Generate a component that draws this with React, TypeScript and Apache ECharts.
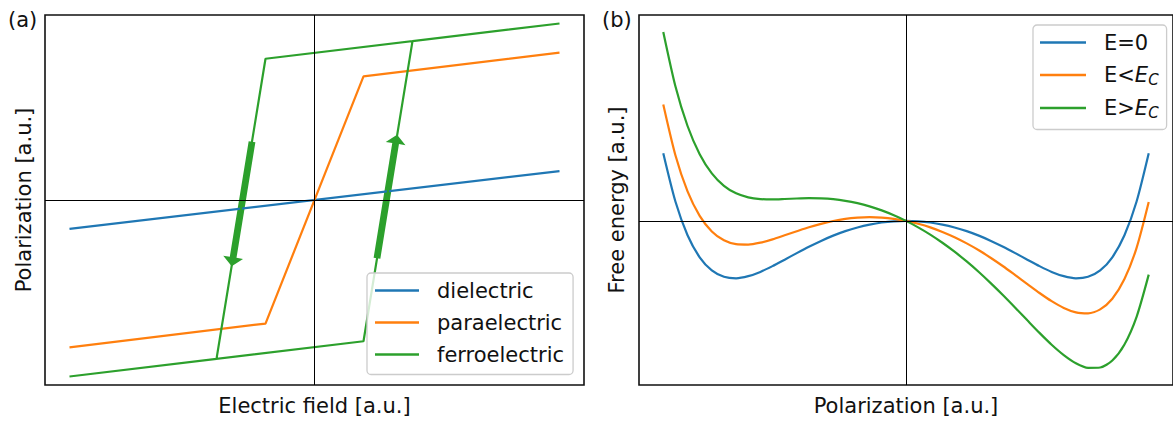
import { useEffect, useRef } from 'react';
import * as echarts from 'echarts';

// ---------- panel (a): polarization vs. electric field ----------
const dielectricField = [-1, 1];
const dielectricPol = [-0.164, 0.164];

const paraField = [-1, -0.2, 0.2, 1];
const paraPol = [-0.835, -0.7, 0.7, 0.835];

// hysteresis loop, traced lower branch -> up-switch -> upper branch -> down-switch
const ferroField = [-1, 0.2, 0.4, 1, -0.2, -0.4, -1];
const ferroPol = [-1, -0.8, 0.9, 1, 0.8, -0.9, -1];

// switching arrows: [field start, pol start, field tip, pol tip]
const arrowDown = [-0.255, 0.33, -0.338, -0.375];
const arrowUp = [0.255, -0.33, 0.337, 0.37];

const fieldLegend = ['dielectric', 'paraelectric', 'ferroelectric'];

// ---------- panel (b): free energy vs. polarization ----------
const polarization = [
  -1, -0.95, -0.9, -0.85, -0.8, -0.75, -0.7, -0.65, -0.6, -0.55, -0.5,
  -0.45, -0.4, -0.35, -0.3, -0.25, -0.2, -0.15, -0.1, -0.05, 0,
  0.05, 0.1, 0.15, 0.2, 0.25, 0.3, 0.35, 0.4, 0.45, 0.5,
  0.55, 0.6, 0.65, 0.7, 0.75, 0.8, 0.85, 0.9, 0.95, 1,
];
const energyZeroField = [
  0.68, 0.195, -0.144, -0.366, -0.498, -0.562, -0.577, -0.556, -0.513, -0.455, -0.39,
  -0.324, -0.26, -0.201, -0.148, -0.103, -0.066, -0.037, -0.016, -0.004, 0,
  -0.004, -0.016, -0.037, -0.066, -0.103, -0.148, -0.201, -0.26, -0.324, -0.39,
  -0.455, -0.513, -0.556, -0.577, -0.562, -0.498, -0.366, -0.144, 0.195, 0.68,
];
const energyBelowCoercive = [
  1.17, 0.66, 0.297, 0.051, -0.106, -0.195, -0.234, -0.238, -0.219, -0.186, -0.145,
  -0.104, -0.064, -0.03, -0.001, 0.02, 0.032, 0.037, 0.033, 0.021, 0,
  -0.029, -0.065, -0.111, -0.164, -0.226, -0.295, -0.373, -0.456, -0.545, -0.635,
  -0.725, -0.807, -0.875, -0.92, -0.93, -0.89, -0.783, -0.585, -0.271, 0.19,
];
const energyAboveCoercive = [
  1.9, 1.354, 0.954, 0.671, 0.478, 0.353, 0.277, 0.237, 0.219, 0.216, 0.22,
  0.225, 0.228, 0.226, 0.218, 0.202, 0.178, 0.146, 0.106, 0.057, 0,
  -0.065, -0.138, -0.22, -0.31, -0.408, -0.514, -0.628, -0.748, -0.873, -1.0,
  -1.126, -1.245, -1.349, -1.431, -1.477, -1.474, -1.403, -1.242, -0.964, -0.54,
];

const energyLegend = ['E=0', 'E<E_C', 'E>E_C'];

const BLUE = '#1f77b4';
const ORANGE = '#ff7f0e';
const GREEN = '#2ca02c';
const INK = '#111111';
const FONT = 'DejaVu Sans';

const pairs = (xs: number[], ys: number[]) => xs.map((x, i) => [x, ys[i]]);

const zeroLines = {
  silent: true,
  symbol: ['none', 'none'],
  label: { show: false },
  lineStyle: { color: '#000', width: 1, type: 'solid' },
  emphasis: { disabled: true },
  data: [{ xAxis: 0 }, { yAxis: 0 }],
};

const hiddenAxis = {
  type: 'value',
  axisLine: { show: false },
  axisTick: { show: false },
  axisLabel: { show: false },
  splitLine: { show: false },
  nameLocation: 'middle',
  nameTextStyle: { fontFamily: FONT, fontSize: 21, color: INK },
};

const lineSeries = (
  name: string,
  data: number[][],
  color: string,
  axis: number,
  extra: Record<string, unknown> = {},
) => ({
  type: 'line',
  name,
  data,
  xAxisIndex: axis,
  yAxisIndex: axis,
  showSymbol: false,
  symbol: 'none',
  lineStyle: { color, width: 2.2 },
  itemStyle: { color },
  emphasis: { disabled: true },
  ...extra,
});

const legendBase = {
  orient: 'vertical',
  selectedMode: false,
  icon: 'rect',
  itemHeight: 2.6,
  itemGap: 8,
  backgroundColor: 'rgba(255,255,255,0.8)',
  borderColor: '#cccccc',
  borderWidth: 1.3,
  borderRadius: 4,
};

function buildOption() {
  return {
    animation: false,
    backgroundColor: '#ffffff',
    grid: [
      { left: 45, top: 15, width: 539, height: 371, show: true, borderColor: INK, borderWidth: 1.6, backgroundColor: 'transparent' },
      { left: 639, top: 15, width: 538, height: 370, show: true, borderColor: INK, borderWidth: 1.6, backgroundColor: 'transparent' },
    ],
    xAxis: [
      { ...hiddenAxis, gridIndex: 0, min: -1.1, max: 1.1, name: 'Electric field [a.u.]', nameGap: 10 },
      { ...hiddenAxis, gridIndex: 1, min: -1.1, max: 1.1, name: 'Polarization [a.u.]', nameGap: 10 },
    ],
    yAxis: [
      { ...hiddenAxis, gridIndex: 0, min: -1.048, max: 1.048, name: 'Polarization [a.u.]', nameGap: 11, nameRotate: 90 },
      { ...hiddenAxis, gridIndex: 1, min: -1.65, max: 2.07, name: 'Free energy [a.u.]', nameGap: 12, nameRotate: 90 },
    ],
    legend: [
      {
        ...legendBase,
        data: fieldLegend,
        left: 367,
        top: 273,
        itemWidth: 44,
        padding: [5.5, 9, 8, 8],
        textStyle: { fontFamily: FONT, fontSize: 21, color: INK, lineHeight: 24, padding: [0, 0, 0, 13] },
      },
      {
        ...legendBase,
        data: energyLegend,
        left: 1033,
        top: 25,
        itemWidth: 46,
        padding: [5.5, 8, 9, 7],
        formatter: (name: string) =>
          name === 'E=0' ? '{t|E=0}' : name === 'E<E_C' ? '{t|E<}{i|E}{s|C}' : '{t|E>}{i|E}{s|C}',
        textStyle: {
          fontFamily: FONT,
          fontSize: 21,
          color: INK,
          lineHeight: 24,
          padding: [0, 0, 0, 13],
          rich: {
            t: { fontFamily: FONT, fontSize: 21, color: INK, lineHeight: 24 },
            i: { fontFamily: FONT, fontSize: 21, fontStyle: 'italic', color: INK, lineHeight: 24 },
            s: { fontFamily: FONT, fontSize: 15, fontStyle: 'italic', color: INK, lineHeight: 14, padding: [10, 0, 0, 0] },
          },
        },
      },
    ],
    graphic: [
      { type: 'text', left: 8, top: 9, style: { text: '(a)', fontFamily: FONT, fontSize: 21, fill: INK } },
      { type: 'text', left: 602, top: 9, style: { text: '(b)', fontFamily: FONT, fontSize: 21, fill: INK } },
    ],
    series: [
      lineSeries('dielectric', pairs(dielectricField, dielectricPol), BLUE, 0, { markLine: zeroLines }),
      lineSeries('paraelectric', pairs(paraField, paraPol), ORANGE, 0),
      lineSeries('ferroelectric', pairs(ferroField, ferroPol), GREEN, 0),
      {
        type: 'custom',
        xAxisIndex: 0,
        yAxisIndex: 0,
        silent: true,
        data: [arrowDown, arrowUp],
        encode: { x: [0, 2], y: [1, 3] },
        renderItem: (_params: unknown, api: any) => {
          const a = api.coord([api.value(0), api.value(1)]);
          const b = api.coord([api.value(2), api.value(3)]);
          const dx = b[0] - a[0];
          const dy = b[1] - a[1];
          const len = Math.hypot(dx, dy);
          const ux = dx / len;
          const uy = dy / len;
          const nx = -uy;
          const ny = ux;
          const headLen = 9;
          const headHalf = 10;
          const shaftHalf = 3.4;
          const bx = b[0] - ux * headLen;
          const by = b[1] - uy * headLen;
          return {
            type: 'polygon',
            shape: {
              points: [
                [a[0] + nx * shaftHalf, a[1] + ny * shaftHalf],
                [bx + nx * shaftHalf, by + ny * shaftHalf],
                [bx + nx * headHalf, by + ny * headHalf],
                [b[0], b[1]],
                [bx - nx * headHalf, by - ny * headHalf],
                [bx - nx * shaftHalf, by - ny * shaftHalf],
                [a[0] - nx * shaftHalf, a[1] - ny * shaftHalf],
              ],
            },
            style: { fill: GREEN },
          };
        },
      },
      lineSeries('E=0', pairs(polarization, energyZeroField), BLUE, 1, { smooth: 0.25, markLine: zeroLines }),
      lineSeries('E<E_C', pairs(polarization, energyBelowCoercive), ORANGE, 1, { smooth: 0.25 }),
      lineSeries('E>E_C', pairs(polarization, energyAboveCoercive), GREEN, 1, { smooth: 0.25 }),
    ],
  };
}

export default function App() {
  const ref = useRef<HTMLDivElement>(null);
  useEffect(() => {
    if (!ref.current) return;
    const chart = echarts.init(ref.current, undefined, { renderer: 'svg' });
    chart.setOption(buildOption() as any);
    return () => chart.dispose();
  }, []);
  return (
    <div
      ref={ref}
      style={{ position: 'fixed', left: 0, top: 0, width: 1173, height: 421, background: '#fff' }}
    />
  );
}
